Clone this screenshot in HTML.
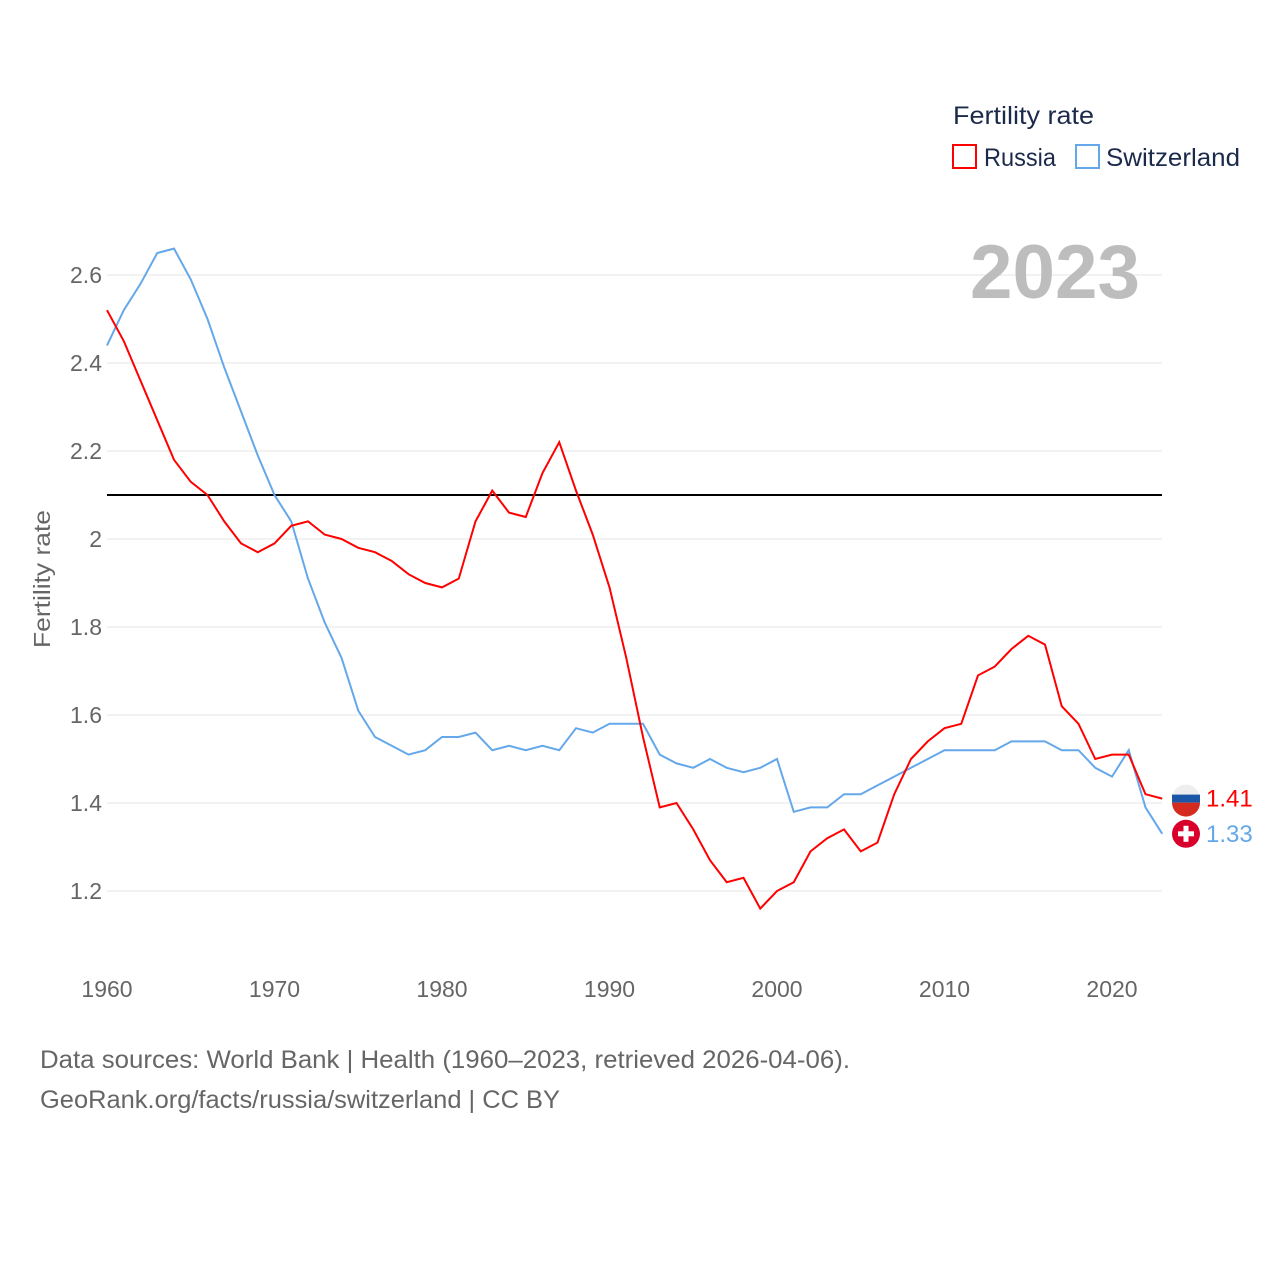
<!DOCTYPE html>
<html><head><meta charset="utf-8"><style>
body{margin:0;background:#fff;font-family:"Liberation Sans",sans-serif}
svg text{font-family:"Liberation Sans",sans-serif}
</style></head><body>
<svg id="chart" width="1280" height="1280" xmlns="http://www.w3.org/2000/svg">
<g id="grid"></g>
<g id="xt"></g>
<g id="lines"></g>
<text x="1140" y="298" font-size="76" font-weight="bold" fill="#bdbdbd" text-anchor="end" textLength="170" lengthAdjust="spacingAndGlyphs">2023</text>
<text x="953" y="124" font-size="25" fill="#1b2a4a" textLength="141" lengthAdjust="spacingAndGlyphs">Fertility rate</text>
<g><rect x="953" y="145" width="23" height="23" fill="none" stroke="#f00" stroke-width="2"/><text x="984" y="166" font-size="25" fill="#1b2a4a" textLength="72" lengthAdjust="spacingAndGlyphs">Russia</text></g>
<g><rect x="1076" y="145" width="23" height="23" fill="none" stroke="#64a8ea" stroke-width="2"/><text x="1106" y="166" font-size="25" fill="#1b2a4a" textLength="134" lengthAdjust="spacingAndGlyphs">Switzerland</text></g>
<text transform="translate(50,579) rotate(-90)" font-size="23" fill="#666" text-anchor="middle" textLength="138" lengthAdjust="spacingAndGlyphs">Fertility rate</text>
<text x="40" y="1068" font-size="25" fill="#666" textLength="810" lengthAdjust="spacingAndGlyphs">Data sources: World Bank | Health (1960–2023, retrieved 2026-04-06).</text>
<text x="40" y="1108" font-size="25" fill="#666" textLength="520" lengthAdjust="spacingAndGlyphs">GeoRank.org/facts/russia/switzerland | CC BY</text>
</svg>
<script>
const years=[];for(let y=1960;y<=2023;y++)years.push(y);
const russia=[2.52,2.45,2.36,2.27,2.18,2.13,2.10,2.04,1.99,1.97,1.99,2.03,2.04,2.01,2.00,1.98,1.97,1.95,1.92,1.90,1.89,1.91,2.04,2.11,2.06,2.05,2.15,2.22,2.11,2.01,1.89,1.73,1.55,1.39,1.40,1.34,1.27,1.22,1.23,1.16,1.20,1.22,1.29,1.32,1.34,1.29,1.31,1.42,1.50,1.54,1.57,1.58,1.69,1.71,1.75,1.78,1.76,1.62,1.58,1.50,1.51,1.51,1.42,1.41];
const swiss=[2.44,2.52,2.58,2.65,2.66,2.59,2.50,2.39,2.29,2.19,2.10,2.04,1.91,1.81,1.73,1.61,1.55,1.53,1.51,1.52,1.55,1.55,1.56,1.52,1.53,1.52,1.53,1.52,1.57,1.56,1.58,1.58,1.58,1.51,1.49,1.48,1.50,1.48,1.47,1.48,1.50,1.38,1.39,1.39,1.42,1.42,1.44,1.46,1.48,1.50,1.52,1.52,1.52,1.52,1.54,1.54,1.54,1.52,1.52,1.48,1.46,1.52,1.39,1.33];
const yTicks=[1.2,1.4,1.6,1.8,2,2.2,2.4,2.6];
const xTicks=[1960,1970,1980,1990,2000,2010,2020];
const refLine=2.1;
const X=y=>107+(y-1960)*16.75, Y=v=>275+(2.6-v)*440;
const NS="http://www.w3.org/2000/svg";
function mk(t,a,p){const e=document.createElementNS(NS,t);for(const k in a)e.setAttribute(k,a[k]);p.appendChild(e);return e;}
const g=document.getElementById('grid');
yTicks.forEach(v=>{
 const l=mk('line',{x1:107,x2:1162,y1:Y(v),y2:Y(v),stroke:'#e6e6e6','stroke-width':1},g);
 
 
 const t=mk('text',{x:102,y:Y(v)+8,'font-size':23,fill:'#666','text-anchor':'end'},g);t.textContent=String(v);
 
 
});
const xt=document.getElementById('xt');
xTicks.forEach(v=>{const t=mk('text',{x:X(v),y:997,'font-size':23,fill:'#666','text-anchor':'middle'},xt);t.textContent=v;
 
 });
const L=document.getElementById('lines');
const rl=mk('line',{x1:107,x2:1162,y1:Y(refLine),y2:Y(refLine),stroke:'#000','stroke-width':2},L);


function series(d,c,name){const p=mk('polyline',{points:d.map((v,i)=>X(years[i])+','+Y(v)).join(' '),fill:'none',stroke:c,'stroke-width':2},L);
 
 }
series(swiss,'#64a8ea','switzerland-line');
series(russia,'#f00','russia-line');
function flag(v,c,lab,name,ru){const cy=Y(v),cx=1186;
 const f=document.createElementNS(NS,'g');L.appendChild(f);
 
 
 if(ru){mk('circle',{cx,cy,r:14,fill:'#eee'},f);mk('rect',{x:cx-14,y:cy-4,width:28,height:8,fill:'#1c57a7'},f);mk('path',{d:`M${cx-14},${cy+4} A14,14 0 0 0 ${cx+14},${cy+4} Z`,fill:'#d52b1e'},f);}
 else{mk('circle',{cx,cy,r:14,fill:'#d8002a'},f);mk('rect',{x:cx-2.5,y:cy-8,width:5,height:16,fill:'#fff'},f);mk('rect',{x:cx-8,y:cy-2.5,width:16,height:5,fill:'#fff'},f);}
 const t=mk('text',{x:1206,y:cy+8,'font-size':24,fill:c},f);t.textContent=lab;}
flag(russia[russia.length-1],'#f00','1.41','russia-end-label',true);
flag(swiss[swiss.length-1],'#64a8ea','1.33','switzerland-end-label',false);
</script>
</body></html>
